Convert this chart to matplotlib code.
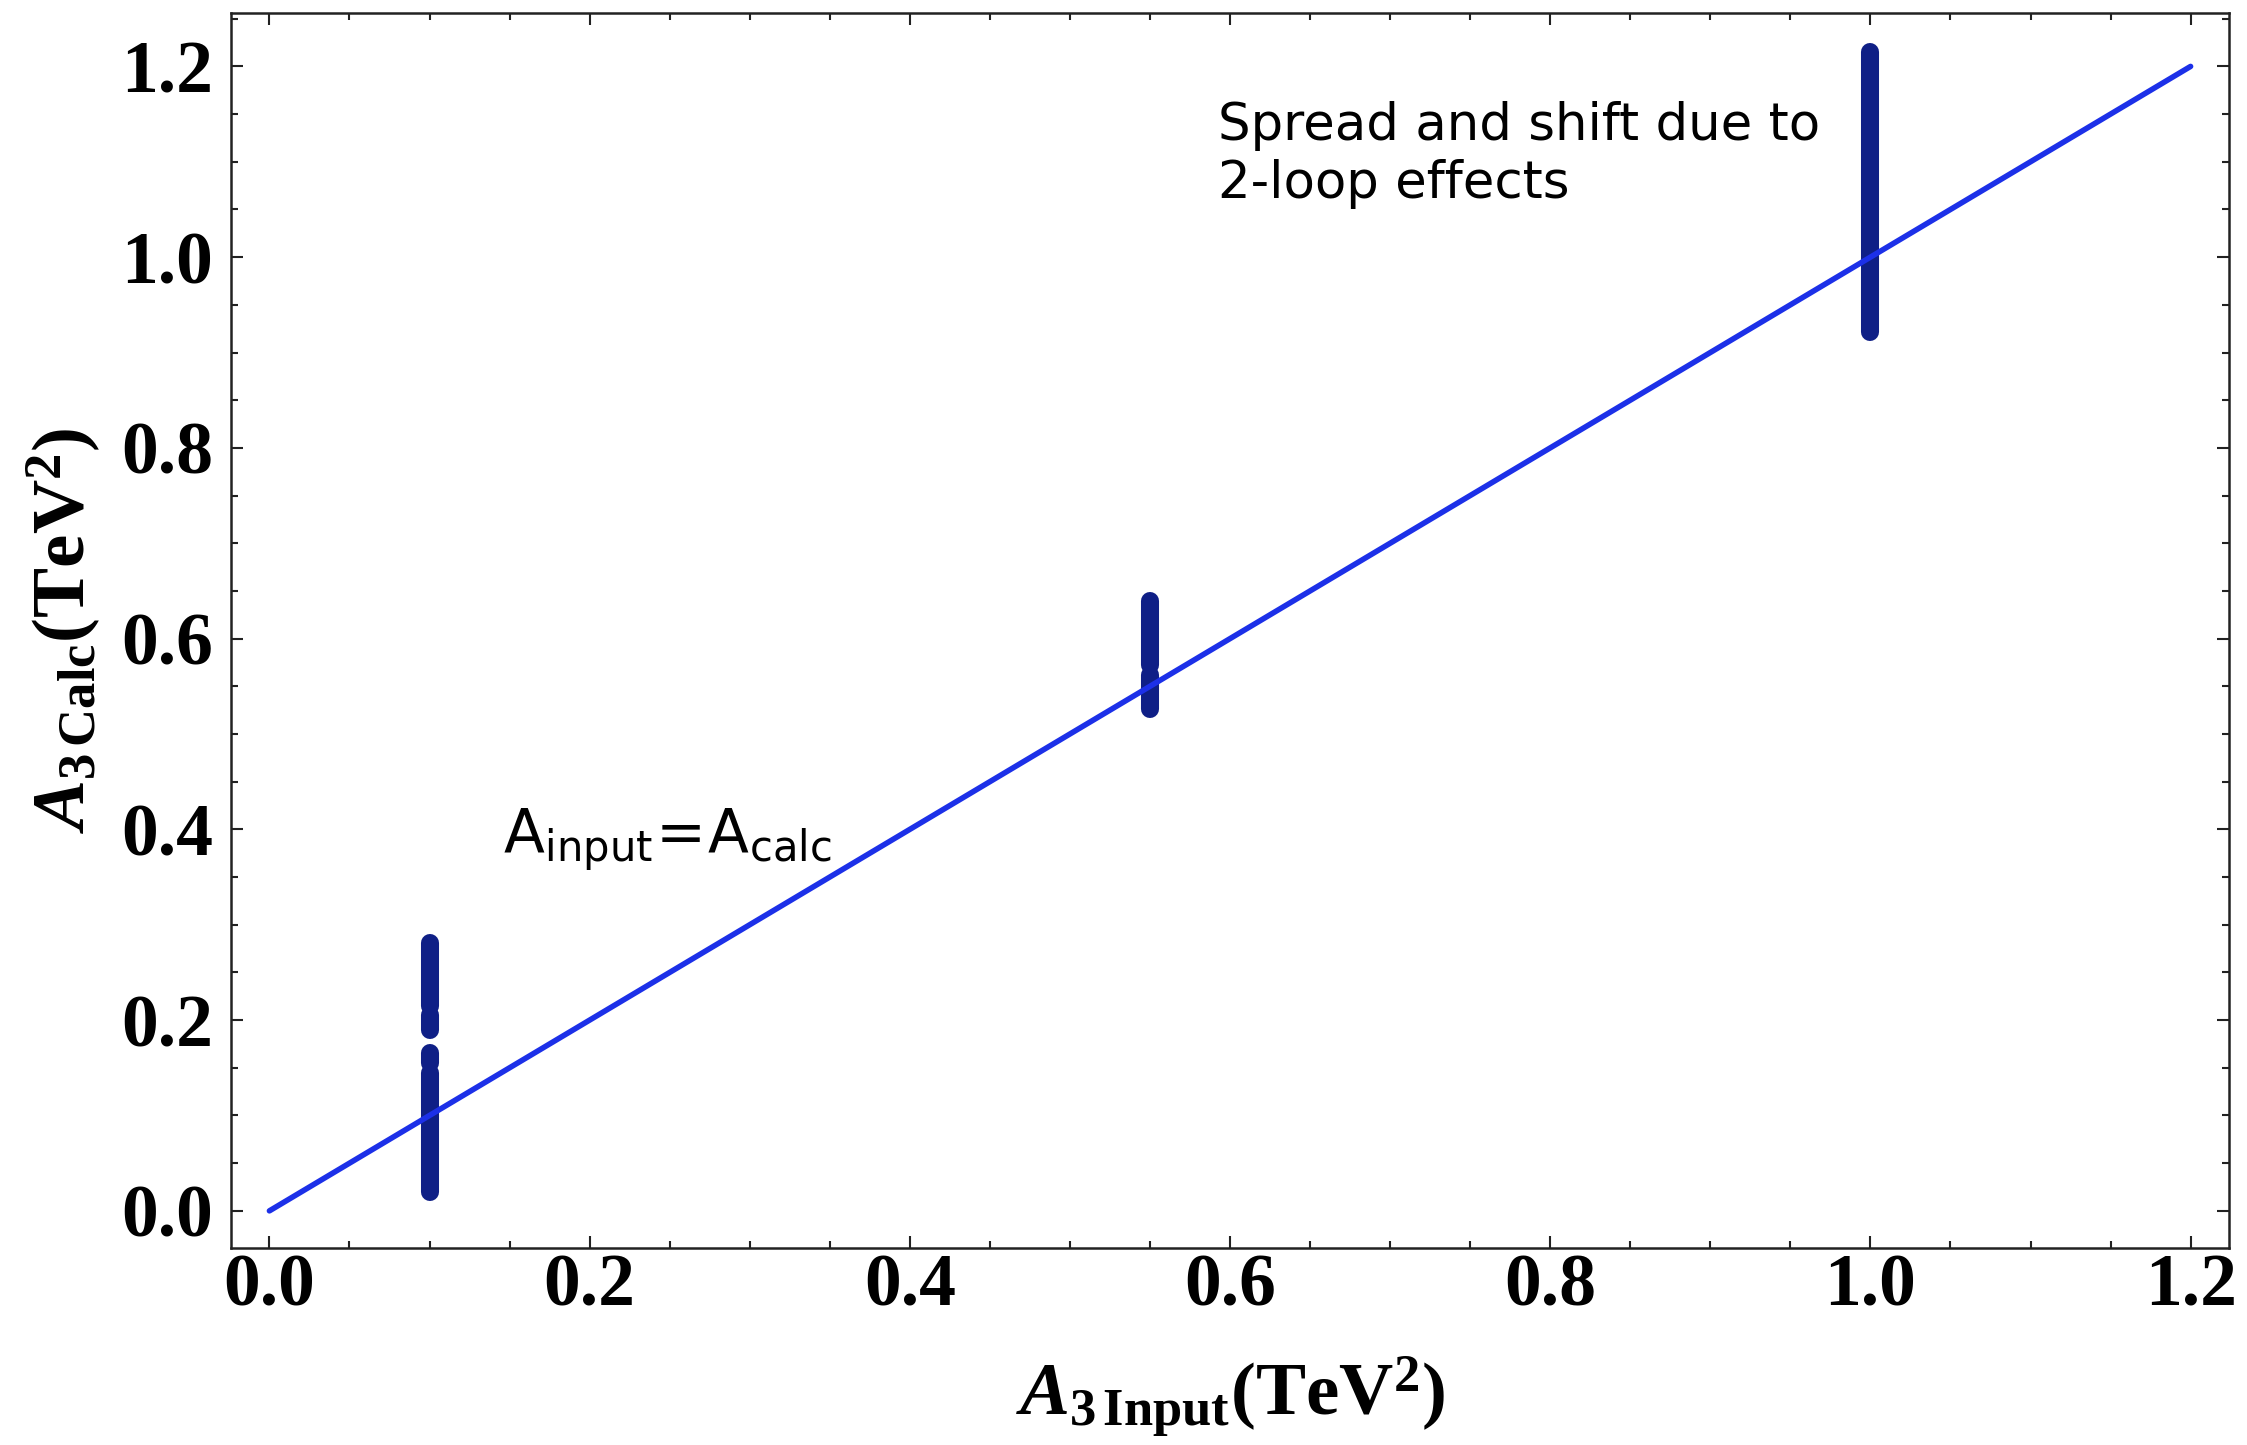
import numpy as np
import matplotlib as mpl
mpl.use('Agg')
import matplotlib.pyplot as plt
from matplotlib.ticker import MultipleLocator

# mathtext in bold Times-like serif for the axis labels
plt.rcParams['mathtext.fontset'] = 'custom'
plt.rcParams['mathtext.rm'] = 'Liberation Serif:bold'
plt.rcParams['mathtext.it'] = 'Liberation Serif:bold:italic'
plt.rcParams['mathtext.bf'] = 'Liberation Serif:bold'

# reference line A_input = A_calc
line_x = [0.0, 1.2]
line_y = [0.0, 1.2]

# vertical clusters of scan points: x position, low / high ends of each run
cluster_x = [0.1, 0.1, 0.1, 0.1, 0.55, 0.55, 1.0]
cluster_lo = [0.020, 0.155, 0.190, 0.215, 0.526, 0.572, 0.922]
cluster_hi = [0.145, 0.166, 0.205, 0.281, 0.562, 0.639, 1.215]

x_ticks = [0.0, 0.2, 0.4, 0.6, 0.8, 1.0, 1.2]
y_ticks = [0.0, 0.2, 0.4, 0.6, 0.8, 1.0, 1.2]

fig = plt.figure(figsize=(22.47, 14.45), dpi=100)
ax = fig.add_axes([0.1028, 0.1363, 0.8892, 0.8547])

for x, lo, hi in zip(cluster_x, cluster_lo, cluster_hi):
    ax.plot([x, x], [lo, hi], color='#0f1f86', lw=13, solid_capstyle='round', zorder=2)

ax.plot(line_x, line_y, color='#1c30e8', lw=4, solid_capstyle='round', zorder=3)

ax.set_xlim(-0.024, 1.224)
ax.set_ylim(-0.039, 1.256)
ax.set_xticks(x_ticks)
ax.set_yticks(y_ticks)
ax.set_xticklabels(['%.1f' % v for v in x_ticks])
ax.set_yticklabels(['%.1f' % v for v in y_ticks])
ax.xaxis.set_minor_locator(MultipleLocator(0.05))
ax.yaxis.set_minor_locator(MultipleLocator(0.05))

ax.tick_params(which='both', direction='in', top=True, right=True, width=1.5, color='#222222')
ax.tick_params(which='major', length=8.5)
ax.tick_params(which='minor', length=5)
ax.tick_params(axis='y', which='major', pad=13)
ax.tick_params(axis='x', which='major', pad=4)
for lab in ax.get_xticklabels() + ax.get_yticklabels():
    lab.set_fontfamily('Liberation Serif')
    lab.set_fontweight('bold')
    lab.set_fontsize(53)
for sp in ax.spines.values():
    sp.set_linewidth(1.8)
    sp.set_color('#222222')

ax.set_xlabel(r'$A_{\mathrm{3\,Input}}\mathrm{(TeV^{2})}$', fontsize=54)
ax.set_ylabel(r'$A_{\mathrm{3\,Calc}}\mathrm{(TeV^{2})}$', fontsize=54)
ax.xaxis.set_label_coords(0.5, -0.086)
ax.yaxis.set_label_coords(-0.064, 0.5)

# annotations
ax.text(0.146, 0.376, r'$\mathrm{A_{input}}\!=\!\mathrm{A_{calc}}$', fontsize=43,
        math_fontfamily='dejavusans', ha='left', va='baseline')
ax.text(0.5925, 1.062, 'Spread and shift due to\n2-loop effects', fontsize=37,
        family='DejaVu Sans', ha='left', va='baseline', linespacing=1.2)

fig.savefig('out.png', dpi=100)
